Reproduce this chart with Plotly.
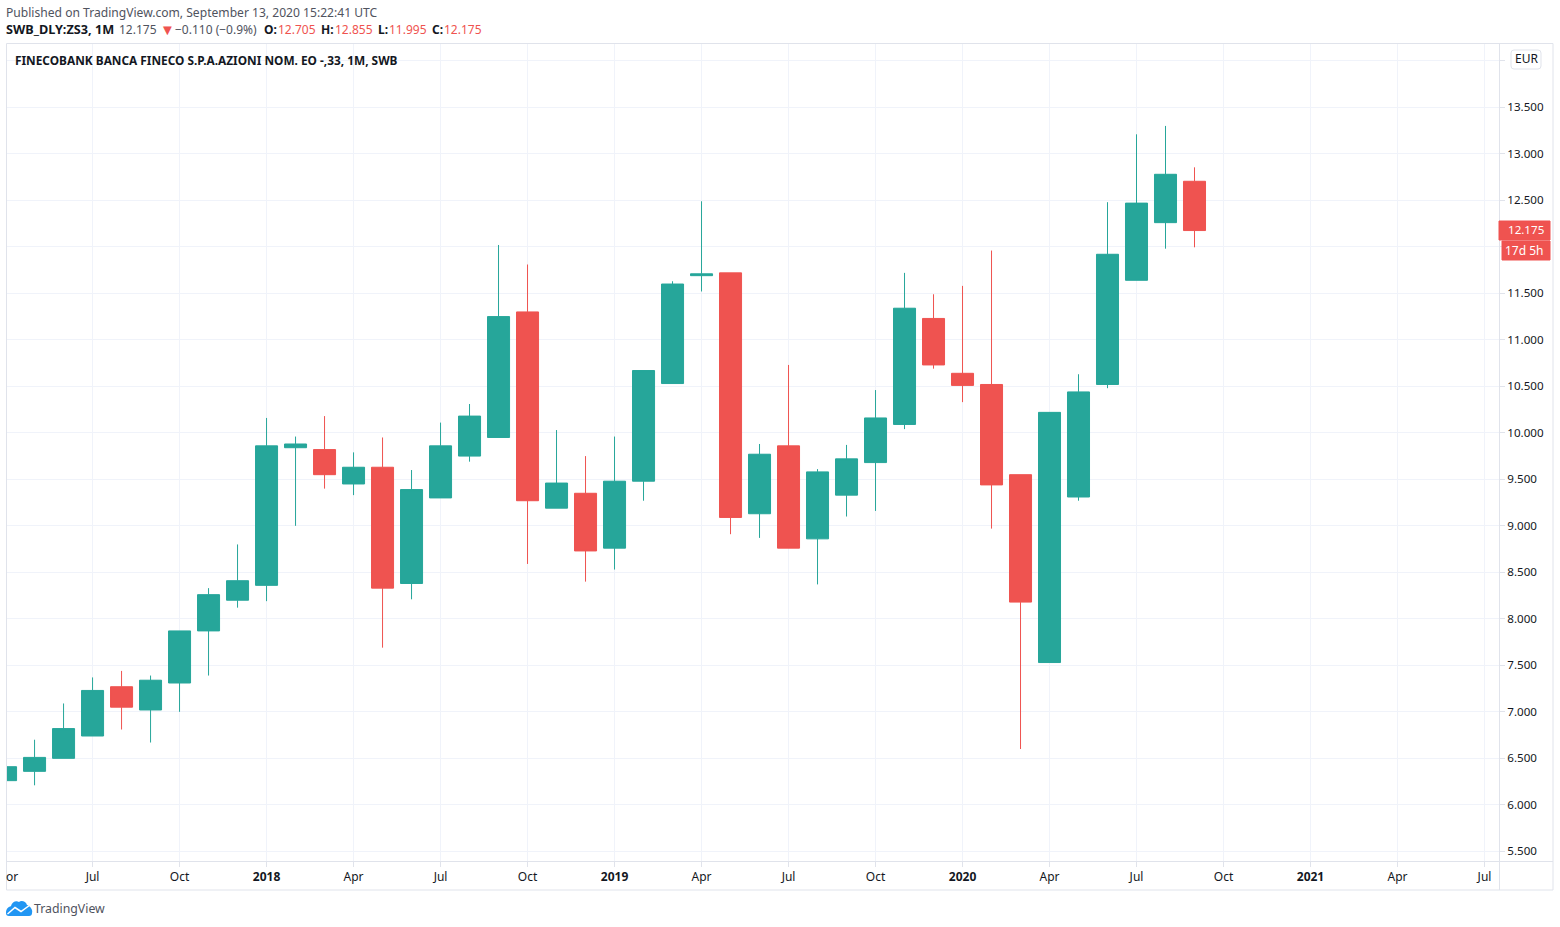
import pandas as pd
import plotly.graph_objects as go

# monthly candles, values
month_start = "2017-04"
open_ = [6.26, 6.36, 6.50, 6.74, 7.27, 7.02, 7.31, 7.87, 8.20, 8.36, 9.84, 9.82, 9.45, 9.63,
         8.38, 9.30, 9.75, 9.95, 11.30, 9.19, 9.35, 8.76, 9.48, 10.53, 11.69, 11.72, 9.13, 9.86,
         8.86, 9.33, 9.68, 10.09, 11.23, 10.64, 10.52, 9.55, 7.53, 9.31, 10.52, 11.64, 12.26, 12.705]
high = [6.42, 6.70, 7.09, 7.37, 7.44, 7.39, 7.87, 8.33, 8.80, 10.16, 9.96, 10.18, 9.79, 9.95,
        9.60, 10.11, 10.31, 12.02, 11.81, 10.03, 9.75, 9.96, 10.67, 11.63, 12.49, 11.72, 9.88, 10.73,
        9.61, 9.87, 10.46, 11.72, 11.49, 11.58, 11.96, 9.55, 10.22, 10.63, 12.48, 13.21, 13.30, 12.855]
low = [6.26, 6.21, 6.50, 6.74, 6.81, 6.67, 7.00, 7.39, 8.12, 8.19, 9.00, 9.40, 9.33, 7.69,
       8.21, 9.30, 9.69, 9.95, 8.59, 9.19, 8.40, 8.53, 9.27, 10.53, 11.52, 8.91, 8.87, 8.76,
       8.37, 9.10, 9.16, 10.04, 10.69, 10.33, 8.97, 6.60, 7.53, 9.27, 10.48, 11.64, 11.98, 11.995]
close = [6.41, 6.51, 6.82, 7.23, 7.05, 7.34, 7.87, 8.26, 8.41, 9.86, 9.88, 9.55, 9.63, 8.33,
         9.39, 9.86, 10.18, 11.25, 9.27, 9.46, 8.73, 9.48, 10.67, 11.60, 11.71, 9.09, 9.77, 8.76,
         9.58, 9.72, 10.16, 11.34, 10.73, 10.51, 9.44, 8.18, 10.22, 10.44, 11.92, 12.47, 12.78, 12.175]

# axis has room for the months after the last candle
months = pd.date_range(month_start, "2021-09", freq="MS").strftime("%Y-%m").tolist()

x_tickvals = ["2017-07", "2017-10", "2018-01", "2018-04", "2018-07", "2018-10", "2019-01", "2019-04",
              "2019-07", "2019-10", "2020-01", "2020-04", "2020-07", "2020-10", "2021-01", "2021-04", "2021-07"]
x_ticktext = ["Jul", "Oct", "<b>2018</b>", "Apr", "Jul", "Oct", "<b>2019</b>", "Apr", "Jul", "Oct",
              "<b>2020</b>", "Apr", "Jul", "Oct", "<b>2021</b>", "Apr", "Jul"]
y_tickvals = [5.5, 6, 6.5, 7, 7.5, 8, 8.5, 9, 9.5, 10, 10.5, 11, 11.5, 12, 12.5, 13, 13.5, 14]
y_ticktext = ["5.500", "6.000", "6.500", "7.000", "7.500", "8.000", "8.500", "9.000", "9.500", "10.000",
              "10.500", "11.000", "11.500", "", "12.500", "13.000", "13.500", ""]

UP = "#26a69a"
DOWN = "#ef5350"
FRAME = "#e0e3eb"
GRID = "#f0f3fa"
TEXT = "#131722"
FONT = "Noto Sans"

# plot area in page pixels
LEFT, RIGHT, TOP, BOTTOM = 7, 1499, 44, 861


def px_x(x):
    return (x - LEFT) / (RIGHT - LEFT)


def px_y(y):
    return (BOTTOM - y) / (BOTTOM - TOP)


def label(x, y, text, size=12, color=TEXT, anchor="left"):
    # annotations pad their text by about 2px on the left
    if anchor == "left":
        x -= 2
    return dict(x=px_x(x), y=px_y(y), xref="paper", yref="paper", text=text, showarrow=False,
                xanchor=anchor, yanchor="middle", align=anchor,
                font=dict(family=FONT, size=size, color=color))


def box(x0, y0, x1, y1, fill, line=None):
    return dict(type="rect", xref="paper", yref="paper", x0=px_x(x0), x1=px_x(x1), y0=px_y(y0), y1=px_y(y1),
                fillcolor=fill, line=dict(color=line or fill, width=1), layer="above")


def outline(points, fill=None, line=None, width=1):
    # free path through pixel points, C segments take three points
    d = ""
    for cmd, pts in points:
        d += cmd + " ".join(f"{px_x(a):.5f},{px_y(b):.5f}" for a, b in pts) + " "
    return dict(type="path", xref="paper", yref="paper", path=d + ("Z" if fill else ""),
                fillcolor=fill or "rgba(0,0,0,0)", line=dict(color=line or "rgba(0,0,0,0)", width=width), layer="above")


fig = go.Figure(go.Candlestick(
    x=months[:len(close)],
    open=open_, high=high, low=low, close=close,
    increasing=dict(line=dict(color=UP, width=1), fillcolor=UP),
    decreasing=dict(line=dict(color=DOWN, width=1), fillcolor=DOWN),
    whiskerwidth=0,
))

shapes = [
    box(6.5, 43.5, 1553, 890, "rgba(0,0,0,0)", FRAME),
    dict(type="line", xref="paper", yref="paper", x0=px_x(1499.5), x1=px_x(1499.5), y0=px_y(43.5), y1=px_y(890),
         line=dict(color=FRAME, width=1), layer="above"),
    dict(type="line", xref="paper", yref="paper", x0=px_x(6.5), x1=px_x(1553), y0=px_y(861.5), y1=px_y(861.5),
         line=dict(color=FRAME, width=1), layer="above"),
    box(1499, 221, 1550, 240, DOWN),
    box(1502, 241, 1550, 260, DOWN),
    outline([("M", [(1514, 50)]), ("L", [(1538, 50)]), ("Q", [(1541, 50), (1541, 53)]), ("L", [(1541, 66)]),
             ("Q", [(1541, 69), (1538, 69)]), ("L", [(1514, 69)]), ("Q", [(1511, 69), (1511, 66)]),
             ("L", [(1511, 53)]), ("Q", [(1511, 50), (1514, 50)])], fill="#ffffff", line=FRAME),
    # TradingView cloud
    outline([("M", [(6, 913)]), ("C", [(6, 908), (9, 907), (11, 906)]), ("C", [(12, 902), (16, 900), (19, 902)]),
             ("C", [(21, 900), (26, 901), (27, 905)]), ("C", [(31, 906), (33, 911), (32, 913)]),
             ("C", [(32, 915), (31, 916), (29, 916)]), ("L", [(9, 916)]), ("C", [(7, 916), (6, 915), (6, 913)])],
            fill="#2196f3"),
    outline([("M", [(7.5, 914)]), ("L", [(15, 907.5)]), ("L", [(21, 911.5)]), ("L", [(30, 905)])],
            line="#ffffff", width=1.5),
]

annotations = [
    label(6, 12.5, "Published on TradingView.com, September 13, 2020 15:22:41 UTC", size=12.1, color="#50535e"),
    label(6, 29.5, "<b>SWB_DLY:ZS3, 1M</b>", size=12.7),
    label(119, 29.5, "12.175", color="#50535e"),
    label(160, 29.5, "▼", size=15, color=DOWN),
    label(175, 29.5, "−0.110 (−0.9%)", color="#50535e"),
    label(264, 29.5, "<b>O:</b>"),
    label(278, 29.5, "12.705", color=DOWN),
    label(321, 29.5, "<b>H:</b>"),
    label(335, 29.5, "12.855", color=DOWN),
    label(378, 29.5, "<b>L:</b>"),
    label(389, 29.5, "11.995", color=DOWN),
    label(432, 29.5, "<b>C:</b>"),
    label(444, 29.5, "12.175", color=DOWN),
    label(15, 59.5, "<b>FINECOBANK BANCA FINECO S.P.A.AZIONI NOM. EO -,33, 1M, SWB</b>", size=11.85),
    label(1526, 58.5, "EUR", anchor="center"),
    label(1508, 230, "12.175", size=11.6, color="#ffffff"),
    label(1505, 250, "17d 5h", size=12, color="#ffffff"),
    label(6, 876, "or"),
    label(34, 908, "TradingView", size=12.3, color="#50535e"),
]

fig.update_layout(
    width=1560,
    height=927,
    margin=dict(l=LEFT, r=1560 - RIGHT, t=TOP, b=927 - BOTTOM, pad=0),
    paper_bgcolor="#ffffff",
    plot_bgcolor="#ffffff",
    showlegend=False,
    boxgap=0.24,
    boxgroupgap=0,
    font=dict(family=FONT, size=12, color=TEXT),
    xaxis=dict(type="category", categoryorder="array", categoryarray=months, range=[0.05, 51.5],
               tickmode="array", tickvals=x_tickvals, ticktext=x_ticktext, tickangle=0,
               showgrid=True, gridcolor=GRID, gridwidth=1, ticks="outside", ticklen=5, tickcolor=FRAME,
               showline=False, zeroline=False, rangeslider=dict(visible=False)),
    yaxis=dict(side="right", range=[5.396, 14.181], tickmode="array", tickvals=y_tickvals, ticktext=y_ticktext,
               tickfont=dict(size=11.6),
               showgrid=True, gridcolor=GRID, gridwidth=1, ticks="outside", ticklen=5, tickcolor=FRAME,
               showline=False, zeroline=False),
    shapes=shapes,
    annotations=annotations,
)

fig.write_html("out.html", config={"displayModeBar": False}, post_script="document.body.style.margin='0';")
